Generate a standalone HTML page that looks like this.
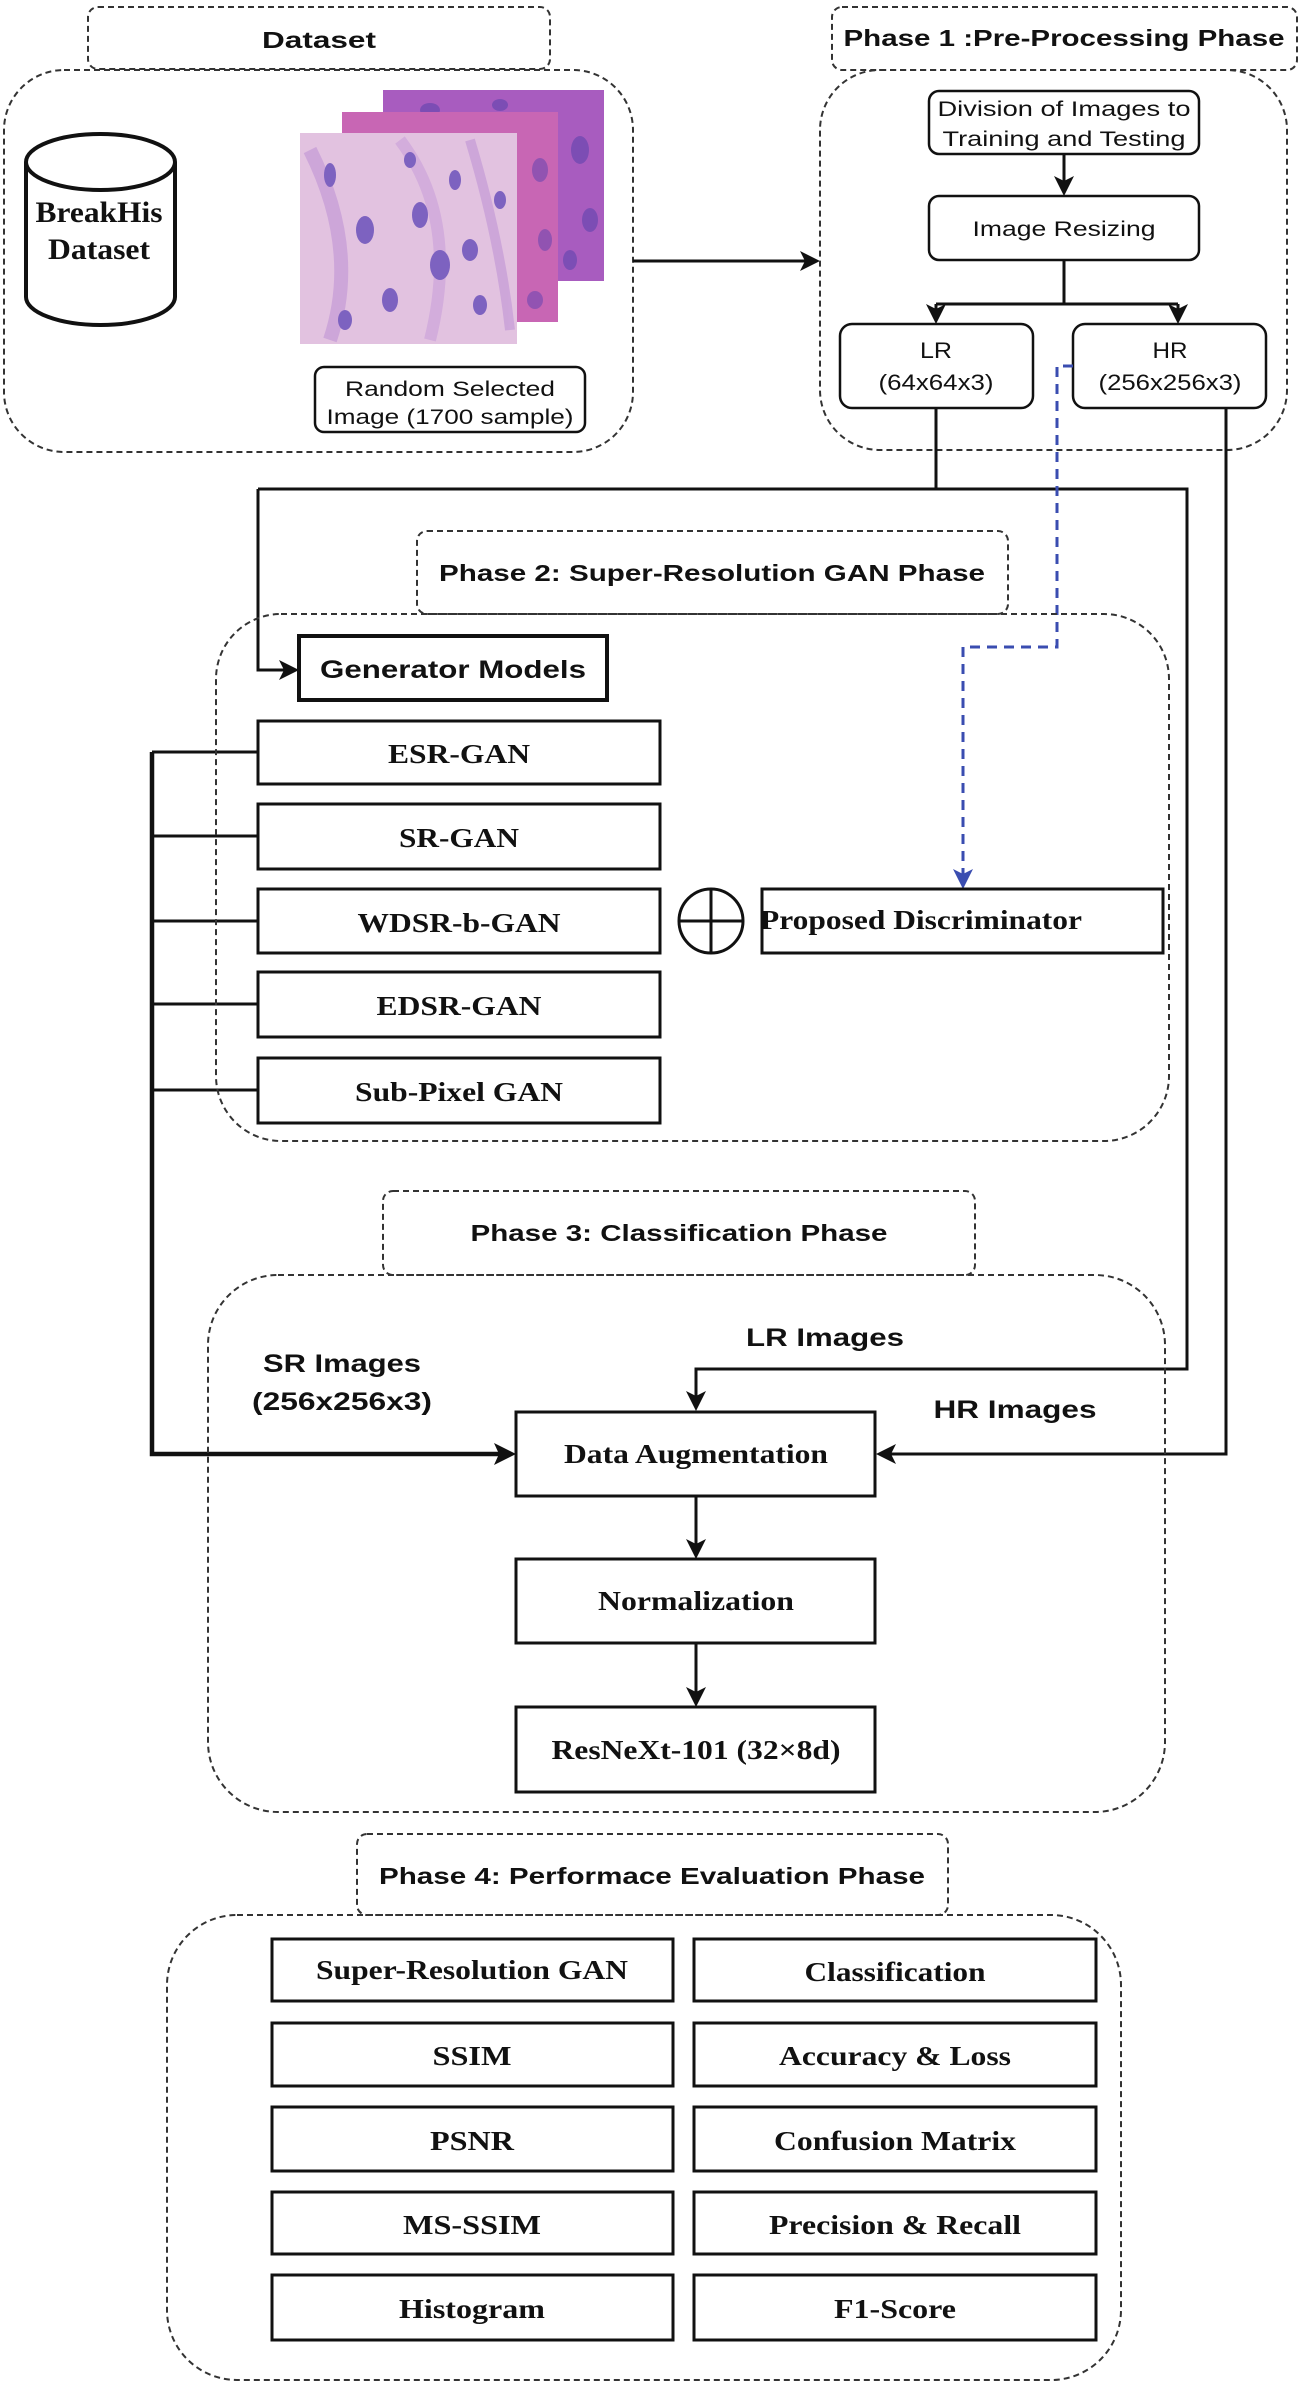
<!DOCTYPE html>
<html><head><meta charset="utf-8"><style>
html,body{margin:0;padding:0;background:#fff;}
svg{display:block;}
.s{font-family:"Liberation Sans",sans-serif;font-weight:bold;fill:#111;}
.n{font-family:"Liberation Sans",sans-serif;fill:#111;}
.r{font-family:"Liberation Serif",serif;font-weight:bold;fill:#111;}
.d{fill:none;stroke:#333;stroke-width:2;stroke-dasharray:6 4;}
.b{fill:#fff;stroke:#111;stroke-width:3;}
.l{fill:none;stroke:#111;stroke-width:3;}
</style></head><body>
<svg width="1300" height="2383" viewBox="0 0 1300 2383" xmlns="http://www.w3.org/2000/svg">
<!-- Dataset -->
<rect class="d" x="88" y="7" width="462" height="62" rx="10"/>
<text class="s" x="319" y="48" font-size="23" text-anchor="middle" textLength="114" lengthAdjust="spacingAndGlyphs">Dataset</text>
<rect class="d" x="4" y="70" width="629" height="382" rx="60"/>
<!-- cylinder -->
<path d="M26 162 L26 297 A74.5 28 0 0 0 175 297 L175 162" fill="#fff" stroke="#111" stroke-width="4"/>
<ellipse cx="100.5" cy="162" rx="74.5" ry="28" fill="#fff" stroke="#111" stroke-width="4"/>
<text class="r" x="99" y="222" font-size="30" text-anchor="middle" textLength="127" lengthAdjust="spacingAndGlyphs">BreakHis</text>
<text class="r" x="99" y="259" font-size="30" text-anchor="middle" textLength="102" lengthAdjust="spacingAndGlyphs">Dataset</text>
<!-- images -->
<rect x="383" y="90" width="221" height="191" fill="#a85cbf"/>
<g fill="#6a48b0" opacity="0.7"><ellipse cx="430" cy="110" rx="10" ry="7"/><ellipse cx="500" cy="105" rx="8" ry="6"/><ellipse cx="580" cy="150" rx="9" ry="14"/><ellipse cx="590" cy="220" rx="8" ry="12"/><ellipse cx="570" cy="260" rx="7" ry="10"/></g>
<rect x="342" y="112" width="216" height="210" fill="#c866b4"/>
<g fill="#7a4cb0" opacity="0.7"><ellipse cx="540" cy="170" rx="8" ry="12"/><ellipse cx="545" cy="240" rx="7" ry="11"/><ellipse cx="535" cy="300" rx="8" ry="9"/></g>
<rect x="300" y="133" width="217" height="211" fill="#e2c2e0"/>
<g fill="#b98ed0" opacity="0.8"><path d="M310 150 Q360 250 330 340" stroke="#c9a0d8" stroke-width="14" fill="none"/><path d="M400 140 Q460 220 430 340" stroke="#d0a8dc" stroke-width="12" fill="none"/><path d="M470 140 Q500 240 510 330" stroke="#c9a0d8" stroke-width="10" fill="none"/></g>
<g fill="#7d62c0"><ellipse cx="330" cy="175" rx="6" ry="12"/><ellipse cx="365" cy="230" rx="9" ry="14"/><ellipse cx="420" cy="215" rx="8" ry="13"/><ellipse cx="440" cy="265" rx="10" ry="15"/><ellipse cx="390" cy="300" rx="8" ry="12"/><ellipse cx="470" cy="250" rx="8" ry="11"/><ellipse cx="480" cy="305" rx="7" ry="10"/><ellipse cx="345" cy="320" rx="7" ry="10"/><ellipse cx="455" cy="180" rx="6" ry="10"/><ellipse cx="500" cy="200" rx="6" ry="9"/><ellipse cx="410" cy="160" rx="6" ry="8"/></g>
<rect x="315" y="367" width="270" height="65" rx="9" fill="#fff" stroke="#111" stroke-width="2.5"/>
<text class="n" x="450" y="396" font-size="21" text-anchor="middle" textLength="210" lengthAdjust="spacingAndGlyphs">Random Selected</text>
<text class="n" x="450" y="424" font-size="21" text-anchor="middle" textLength="247" lengthAdjust="spacingAndGlyphs">Image (1700 sample)</text>
<line class="l" x1="633" y1="261" x2="805" y2="261"/>
<path d="M820 261 L800 251 L805 261 L800 271Z" fill="#111"/>
<!-- Phase 1 -->
<rect class="d" x="832" y="7" width="465" height="63" rx="10"/>
<text class="s" x="1064" y="46" font-size="23" text-anchor="middle" textLength="441" lengthAdjust="spacingAndGlyphs">Phase 1 :Pre-Processing Phase</text>
<rect class="d" x="820" y="70" width="467" height="380" rx="60"/>
<rect x="929" y="91" width="270" height="63" rx="10" fill="#fff" stroke="#111" stroke-width="2.5"/>
<text class="n" x="1064" y="116" font-size="21" text-anchor="middle" textLength="253" lengthAdjust="spacingAndGlyphs">Division of Images to</text>
<text class="n" x="1064" y="146" font-size="21" text-anchor="middle" textLength="243" lengthAdjust="spacingAndGlyphs">Training and Testing</text>
<line class="l" x1="1064" y1="154" x2="1064" y2="185"/>
<path d="M1064 196 L1054 176 L1064 181 L1074 176Z" fill="#111"/>
<rect x="929" y="196" width="270" height="64" rx="10" fill="#fff" stroke="#111" stroke-width="2.5"/>
<text class="n" x="1064" y="236" font-size="21" text-anchor="middle" textLength="183" lengthAdjust="spacingAndGlyphs">Image Resizing</text>
<path class="l" d="M1064 260 L1064 304 M936 304 L1178 304 M936 304 L936 314 M1178 304 L1178 314"/>
<path d="M936 324 L926 304 L936 309 L946 304Z" fill="#111"/>
<path d="M1178 324 L1168 304 L1178 309 L1188 304Z" fill="#111"/>
<rect x="840" y="324" width="193" height="84" rx="12" fill="#fff" stroke="#111" stroke-width="2.5"/>
<text class="n" x="936" y="358" font-size="22" text-anchor="middle" textLength="32" lengthAdjust="spacingAndGlyphs">LR</text>
<text class="n" x="936" y="390" font-size="22" text-anchor="middle" textLength="115" lengthAdjust="spacingAndGlyphs">(64x64x3)</text>
<rect x="1073" y="324" width="193" height="84" rx="12" fill="#fff" stroke="#111" stroke-width="2.5"/>
<text class="n" x="1170" y="358" font-size="22" text-anchor="middle" textLength="35" lengthAdjust="spacingAndGlyphs">HR</text>
<text class="n" x="1170" y="390" font-size="22" text-anchor="middle" textLength="143" lengthAdjust="spacingAndGlyphs">(256x256x3)</text>
<!-- connectors -->
<path class="l" d="M936 408 L936 489 M258 489 L1187 489 L1187 1369 L696 1369 L696 1398"/>
<path d="M696 1411 L686 1391 L696 1396 L706 1391Z" fill="#111"/>
<path class="l" d="M258 489 L258 670 L287 670"/>
<path d="M299 670 L279 660 L284 670 L279 680Z" fill="#111"/>
<path class="l" d="M1226 408 L1226 1454 L888 1454"/>
<path d="M876 1454 L896 1444 L891 1454 L896 1464Z" fill="#111"/>
<path d="M1073 366 L1057 366 L1057 647 L963 647 L963 876" fill="none" stroke="#3a4db0" stroke-width="3" stroke-dasharray="10 7"/>
<path d="M963 889 L953 869 L963 874 L973 869Z" fill="#3a4db0"/>
<path d="M152 752 L152 1454 L500 1454" fill="none" stroke="#111" stroke-width="4.5"/>
<path d="M516 1454 L494 1443 L499 1454 L494 1465Z" fill="#111"/>
<path class="l" d="M152 752 L258 752 M152 836 L258 836 M152 921 L258 921 M152 1004 L258 1004 M152 1090 L258 1090"/>
<!-- Phase 2 -->
<rect class="d" x="417" y="531" width="591" height="83" rx="10"/>
<text class="s" x="712" y="581" font-size="23" text-anchor="middle" textLength="546" lengthAdjust="spacingAndGlyphs">Phase 2: Super-Resolution GAN Phase</text>
<rect class="d" x="216" y="614" width="953" height="527" rx="65"/>
<rect x="299" y="636" width="308" height="64" fill="#fff" stroke="#111" stroke-width="4"/>
<text class="s" x="453" y="678" font-size="25" text-anchor="middle" textLength="266" lengthAdjust="spacingAndGlyphs">Generator Models</text>
<rect class="b" x="258" y="721" width="402" height="63"/>
<text class="r" x="459" y="763" font-size="27" text-anchor="middle" textLength="142" lengthAdjust="spacingAndGlyphs">ESR-GAN</text>
<rect class="b" x="258" y="804" width="402" height="65"/>
<text class="r" x="459" y="847" font-size="27" text-anchor="middle" textLength="120" lengthAdjust="spacingAndGlyphs">SR-GAN</text>
<rect class="b" x="258" y="889" width="402" height="64"/>
<text class="r" x="459" y="932" font-size="27" text-anchor="middle" textLength="203" lengthAdjust="spacingAndGlyphs">WDSR-b-GAN</text>
<rect class="b" x="258" y="972" width="402" height="65"/>
<text class="r" x="459" y="1015" font-size="27" text-anchor="middle" textLength="165" lengthAdjust="spacingAndGlyphs">EDSR-GAN</text>
<rect class="b" x="258" y="1058" width="402" height="65"/>
<text class="r" x="459" y="1101" font-size="27" text-anchor="middle" textLength="208" lengthAdjust="spacingAndGlyphs">Sub-Pixel GAN</text>
<circle cx="711" cy="921" r="32" fill="#fff" stroke="#111" stroke-width="3"/>
<path class="l" d="M679 921 L743 921 M711 889 L711 953"/>
<rect class="b" x="762" y="889" width="401" height="64"/>
<text class="r" x="921" y="929" font-size="27" text-anchor="middle" textLength="322" lengthAdjust="spacingAndGlyphs">Proposed Discriminator</text>
<!-- Phase 3 -->
<rect class="d" x="383" y="1191" width="592" height="84" rx="10"/>
<text class="s" x="679" y="1241" font-size="23" text-anchor="middle" textLength="417" lengthAdjust="spacingAndGlyphs">Phase 3: Classification Phase</text>
<rect class="d" x="208" y="1275" width="957" height="537" rx="70"/>
<text class="s" x="825" y="1346" font-size="25" text-anchor="middle" textLength="158" lengthAdjust="spacingAndGlyphs">LR Images</text>
<text class="s" x="1015" y="1418" font-size="25" text-anchor="middle" textLength="163" lengthAdjust="spacingAndGlyphs">HR Images</text>
<text class="s" x="342" y="1372" font-size="25" text-anchor="middle" textLength="158" lengthAdjust="spacingAndGlyphs">SR Images</text>
<text class="s" x="342" y="1410" font-size="25" text-anchor="middle" textLength="180" lengthAdjust="spacingAndGlyphs">(256x256x3)</text>
<rect class="b" x="516" y="1412" width="359" height="84"/>
<text class="r" x="696" y="1463" font-size="27" text-anchor="middle" textLength="264" lengthAdjust="spacingAndGlyphs">Data Augmentation</text>
<line class="l" x1="696" y1="1496" x2="696" y2="1546"/>
<path d="M696 1559 L686 1539 L696 1544 L706 1539Z" fill="#111"/>
<rect class="b" x="516" y="1559" width="359" height="84"/>
<text class="r" x="696" y="1610" font-size="27" text-anchor="middle" textLength="196" lengthAdjust="spacingAndGlyphs">Normalization</text>
<line class="l" x1="696" y1="1643" x2="696" y2="1694"/>
<path d="M696 1707 L686 1687 L696 1692 L706 1687Z" fill="#111"/>
<rect class="b" x="516" y="1707" width="359" height="85"/>
<text class="r" x="696" y="1759" font-size="27" text-anchor="middle" textLength="289" lengthAdjust="spacingAndGlyphs">ResNeXt-101 (32×8d)</text>
<!-- Phase 4 -->
<rect class="d" x="357" y="1834" width="591" height="81" rx="10"/>
<text class="s" x="652" y="1884" font-size="23" text-anchor="middle" textLength="546" lengthAdjust="spacingAndGlyphs">Phase 4: Performace Evaluation Phase</text>
<rect class="d" x="167" y="1915" width="954" height="465" rx="70"/>
<g>
<rect class="b" x="272" y="1939" width="401" height="62"/><text class="r" x="472" y="1979" font-size="27" text-anchor="middle" textLength="312" lengthAdjust="spacingAndGlyphs">Super-Resolution GAN</text>
<rect class="b" x="694" y="1939" width="402" height="62"/><text class="r" x="895" y="1981" font-size="27" text-anchor="middle" textLength="181" lengthAdjust="spacingAndGlyphs">Classification</text>
<rect class="b" x="272" y="2023" width="401" height="63"/><text class="r" x="472" y="2065" font-size="27" text-anchor="middle" textLength="79" lengthAdjust="spacingAndGlyphs">SSIM</text>
<rect class="b" x="694" y="2023" width="402" height="63"/><text class="r" x="895" y="2065" font-size="27" text-anchor="middle" textLength="232" lengthAdjust="spacingAndGlyphs">Accuracy &amp; Loss</text>
<rect class="b" x="272" y="2107" width="401" height="64"/><text class="r" x="472" y="2150" font-size="27" text-anchor="middle" textLength="84" lengthAdjust="spacingAndGlyphs">PSNR</text>
<rect class="b" x="694" y="2107" width="402" height="64"/><text class="r" x="895" y="2150" font-size="27" text-anchor="middle" textLength="242" lengthAdjust="spacingAndGlyphs">Confusion Matrix</text>
<rect class="b" x="272" y="2192" width="401" height="62"/><text class="r" x="472" y="2234" font-size="27" text-anchor="middle" textLength="138" lengthAdjust="spacingAndGlyphs">MS-SSIM</text>
<rect class="b" x="694" y="2192" width="402" height="62"/><text class="r" x="895" y="2234" font-size="27" text-anchor="middle" textLength="252" lengthAdjust="spacingAndGlyphs">Precision &amp; Recall</text>
<rect class="b" x="272" y="2275" width="401" height="65"/><text class="r" x="472" y="2318" font-size="27" text-anchor="middle" textLength="146" lengthAdjust="spacingAndGlyphs">Histogram</text>
<rect class="b" x="694" y="2275" width="402" height="65"/><text class="r" x="895" y="2318" font-size="27" text-anchor="middle" textLength="122" lengthAdjust="spacingAndGlyphs">F1-Score</text>
</g>
</svg>
</body></html>
